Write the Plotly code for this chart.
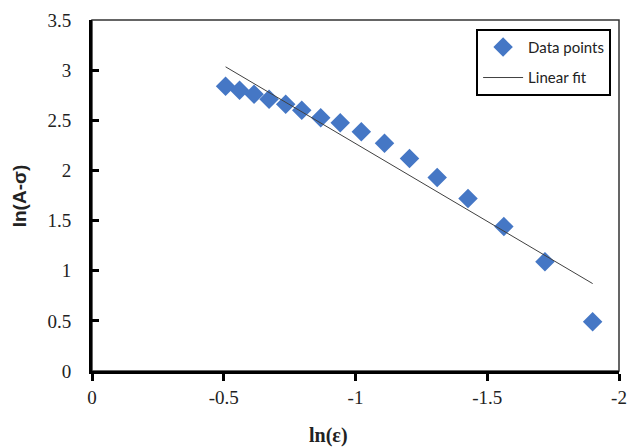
import numpy as np
import plotly.graph_objects as go

ln_eps = [-0.507, -0.56, -0.615, -0.672, -0.735, -0.796, -0.868, -0.942,
          -1.022, -1.11, -1.205, -1.31, -1.427, -1.563, -1.719, -1.90]
ln_A_sigma = [2.84, 2.80, 2.76, 2.71, 2.66, 2.60, 2.525, 2.475,
              2.385, 2.27, 2.12, 1.93, 1.72, 1.44, 1.09, 0.49]

x_ticks = [0, -0.5, -1, -1.5, -2]
y_ticks = [0, 0.5, 1, 1.5, 2, 2.5, 3, 3.5]

slope, intercept = np.polyfit(ln_eps, ln_A_sigma, 1)
fit_x = [min(ln_eps), max(ln_eps)]
fit_y = [slope * v + intercept for v in fit_x]

fig = go.Figure()
fig.add_trace(go.Scatter(x=ln_eps, y=ln_A_sigma, mode="markers", name="Data points",
                         legendgroup="a",
                         marker=dict(symbol="diamond", size=15, color="#4577C5")))
fig.add_trace(go.Scatter(x=fit_x, y=fit_y, mode="lines", name="Linear fit",
                         legendgroup="b",
                         line=dict(color="#404040", width=1)))

tickfont = dict(family="Liberation Serif", size=19, color="#222")
fig.update_layout(
    width=630, height=448,
    margin=dict(l=92, r=11, t=20, b=77),
    paper_bgcolor="white", plot_bgcolor="white",
    showlegend=True,
    legend=dict(x=0.985, y=0.975, xanchor="right", yanchor="top",
                bgcolor="white", bordercolor="black", borderwidth=2,
                font=dict(family="Lato", size=15, color="#222"),
                tracegroupgap=8, itemwidth=40),
    xaxis=dict(range=[0, -2], autorange=False, tickvals=x_ticks,
               ticktext=["0", "-0.5", "-1", "-1.5", "-2"],
               showgrid=False, zeroline=False, automargin=False,
               showline=True, linecolor="black", linewidth=3,
               ticks="outside", ticklen=7, tickwidth=3, tickcolor="black",
               tickfont=tickfont),
    yaxis=dict(range=[0, 3.5], tickvals=y_ticks,
               ticktext=["0", "0.5", "1", "1.5", "2", "2.5", "3", "3.5"],
               showgrid=False, zeroline=False, automargin=False,
               showline=True, linecolor="black", linewidth=3,
               ticks="inside", ticklen=7, tickwidth=3, tickcolor="black",
               ticklabelstandoff=14,
               tickfont=tickfont),
    annotations=[
        dict(text="<b>ln(ε)</b>", xref="paper", yref="paper", x=0.448, y=-0.185,
             xanchor="center", yanchor="middle", showarrow=False,
             font=dict(family="Liberation Serif", size=20, color="#222")),
        dict(text="<b>ln(A-σ)</b>", xref="paper", yref="paper", x=-0.137, y=0.50,
             xanchor="center", yanchor="middle", showarrow=False, textangle=-90,
             font=dict(family="Liberation Sans", size=19, color="#222")),
    ],
    shapes=[dict(type="rect", xref="paper", yref="paper", x0=0, x1=1, y0=0, y1=1,
                 line=dict(color="#333", width=1.5), layer="below")],
)
fig.write_html("out.html")
